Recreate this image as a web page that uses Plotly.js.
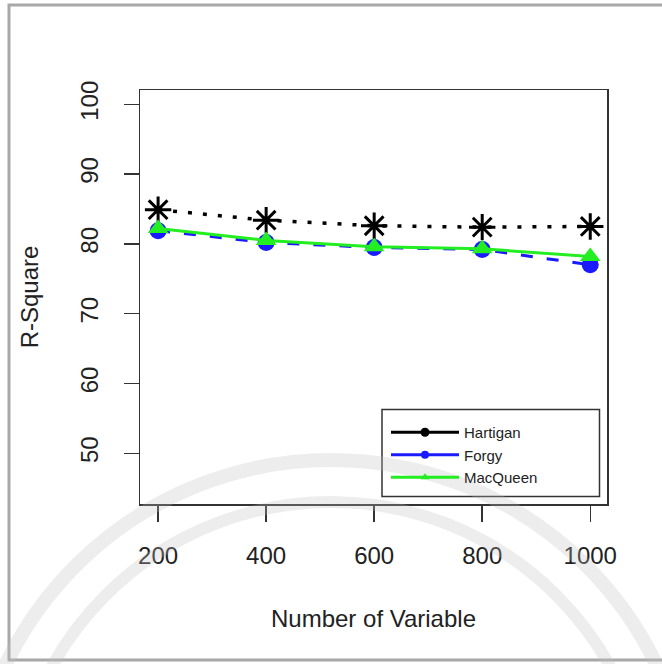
<!DOCTYPE html>
<html>
<head>
<meta charset="utf-8">
<script src="https://cdn.plot.ly/plotly-3.0.1.min.js"></script>
<style>
  html, body { margin: 0; padding: 0; background: #fff; }
  #chart { width: 662px; height: 664px; }
</style>
</head>
<body>
<div id="chart"></div>
<script>
// ---- data ----
const variables = [200, 400, 600, 800, 1000];
const hartigan  = [84.9, 83.4, 82.6, 82.4, 82.5];
const forgy     = [81.9, 80.2, 79.5, 79.2, 77.0];
const macqueen  = [82.2, 80.5, 79.6, 79.3, 78.2];
const seriesNames = ["Hartigan", "Forgy", "MacQueen"];
const xTickVals = [200, 400, 600, 800, 1000];
const yTickVals = [50, 60, 70, 80, 90, 100];

// ---- layout geometry ----
const W = 662, H = 664;
const M = { l: 140, r: 55, t: 90, b: 160 };
const PW = W - M.l - M.r, PH = H - M.t - M.b;
const px = x => (x - M.l) / PW;          // pixel -> paper x
const py = y => (H - M.b - y) / PH;      // pixel -> paper y

const font = "Liberation Sans, Arial, sans-serif";

const traces = [
  { x: variables, y: hartigan, name: seriesNames[0], mode: "lines+markers", showlegend: false,
    line: { color: "#000", width: 3.5, dash: "4px,11px" },
    marker: { symbol: "asterisk-open", size: 22, color: "#000", line: { color: "#000", width: 3 } } },
  { x: variables, y: forgy, name: seriesNames[1], mode: "lines+markers", showlegend: false,
    line: { color: "#1a1aff", width: 3, dash: "12px,14px" },
    marker: { symbol: "circle", size: 17, color: "#1a1aff" } },
  { x: variables, y: macqueen, name: seriesNames[2], mode: "lines+markers", showlegend: false,
    line: { color: "#22ee22", width: 3 },
    marker: { symbol: "triangle-up", size: 18, color: "#22ee22" } },
  // legend entries
  { x: [null], y: [null], name: seriesNames[0], mode: "lines+markers",
    line: { color: "#000", width: 3 }, marker: { symbol: "circle", size: 9, color: "#000" } },
  { x: [null], y: [null], name: seriesNames[1], mode: "lines+markers",
    line: { color: "#1a1aff", width: 3 }, marker: { symbol: "circle", size: 8, color: "#1a1aff" } },
  { x: [null], y: [null], name: seriesNames[2], mode: "lines+markers",
    line: { color: "#22ee22", width: 3 }, marker: { symbol: "triangle-up", size: 8, color: "#22ee22" } }
];

const layout = {
  width: W, height: H,
  margin: M,
  paper_bgcolor: "#fff", plot_bgcolor: "#fff",
  font: { family: font, color: "#222" },
  showlegend: true,
  legend: {
    x: px(386), y: py(416), xanchor: "left", yanchor: "top",
    bgcolor: "rgba(0,0,0,0)", borderwidth: 0,
    font: { family: font, size: 15, color: "#222" },
    itemwidth: 68, tracegroupgap: 0
  },
  xaxis: {
    range: [166.5, 1031], tickvals: xTickVals, ticktext: xTickVals.map(String),
    ticks: "outside", ticklen: 16, tickwidth: 1.5, tickcolor: "#333",
    showline: true, mirror: true, linecolor: "#333", linewidth: 1.5,
    showgrid: false, zeroline: false, ticklabelstandoff: 14,
    tickfont: { family: font, size: 24, color: "#222" },
    title: { text: "Number of Variable", font: { family: font, size: 24, color: "#222" }, standoff: 42 }
  },
  yaxis: {
    range: [42.74, 102.05], tickvals: yTickVals, ticktext: yTickVals.map(String),
    tickangle: -90,
    ticks: "outside", ticklen: 15, tickwidth: 1.5, tickcolor: "#333",
    showline: true, mirror: true, linecolor: "#333", linewidth: 1.5,
    showgrid: false, zeroline: false, ticklabelstandoff: 16,
    tickfont: { family: font, size: 24, color: "#222" },
    title: { text: "R-Square", font: { family: font, size: 24, color: "#222" }, standoff: 30 }
  },
  shapes: [
    // legend box
    { type: "rect", xref: "paper", yref: "paper",
      x0: px(382), x1: px(599.5), y0: py(496.5), y1: py(409.5),
      line: { color: "#333", width: 1.5 } },
    // outer frame
    { type: "rect", xref: "paper", yref: "paper",
      x0: px(9), x1: px(670), y0: py(660), y1: py(5),
      line: { color: "#a8a8a8", width: 3 } },
    // faint watermark rings
    { type: "circle", xref: "paper", yref: "paper", layer: "above",
      x0: px(-30), x1: px(692), y0: py(1182), y1: py(460),
      line: { color: "rgba(190,190,190,0.28)", width: 14 } },
    { type: "circle", xref: "paper", yref: "paper", layer: "above",
      x0: px(12), x1: px(650), y0: py(1140), y1: py(502),
      line: { color: "rgba(190,190,190,0.28)", width: 12 } }
  ]
};

Plotly.newPlot("chart", traces, layout, { displayModeBar: false, staticPlot: true });
</script>
</body>
</html>
